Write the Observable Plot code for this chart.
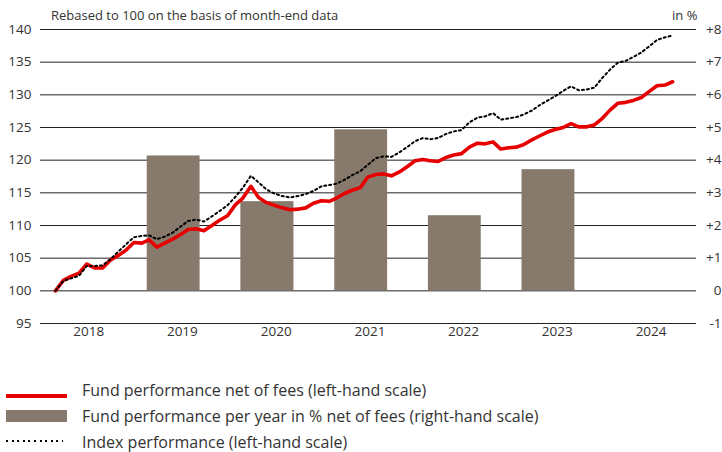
<!DOCTYPE html>
<html>
<head>
<meta charset="utf-8">
<script src="https://cdn.jsdelivr.net/npm/d3@7"></script>
<script src="https://cdn.jsdelivr.net/npm/@observablehq/plot@0.6"></script>
<style>
  html, body { margin: 0; padding: 0; background: #fff; }
  #wrap { position: relative; width: 722px; height: 452px; font-family: "Open Sans", sans-serif; color: #333; overflow: hidden; }
  #chart { position: absolute; left: 0; top: 0; }
  .lbl { position: absolute; font-size: 13px; line-height: 1; white-space: nowrap; }
  .leg { position: absolute; left: 82px; font-size: 16px; line-height: 1; white-space: nowrap; color: #333; }
  .sym { position: absolute; }
</style>
</head>
<body>
<div id="wrap">
  <div id="chart"></div>
  <div class="lbl" style="left:51px; top:9px;">Rebased to 100 on the basis of month-end data</div>
  <div class="lbl" style="left:672px; top:9px;">in %</div>
  <div class="sym" style="left:6px; top:394px; width:61px; height:4px; background:#e60000;"></div>
  <div class="leg" style="top:382px;">Fund performance net of fees (left-hand scale)</div>
  <div class="sym" style="left:6px; top:410px; width:61px; height:12px; background:#877a6c;"></div>
  <div class="leg" style="top:408px;">Fund performance per year in % net of fees (right-hand scale)</div>
  <div class="sym" style="left:6px; top:440px; width:57px; height:2px; background:repeating-linear-gradient(to right, #000 0 2px, transparent 2px 5.6px);"></div>
  <div class="leg" style="top:434px;">Index performance (left-hand scale)</div>
</div>
<script>
// Monthly month-end values, Feb 2018 .. Sep 2024 (rebased to 100)
const startYear = 2018, startMonth = 2; // February
const fund = [
  100.0, 101.6, 102.2, 102.7, 104.1, 103.5, 103.5, 104.7, 105.4, 106.2,
  107.4, 107.3, 107.8, 106.7, 107.3, 107.9, 108.6, 109.4, 109.5, 109.2,
  110.0, 110.8, 111.5, 113.2, 114.2, 116.0, 114.3, 113.5, 113.1, 112.7,
  112.4, 112.5, 112.7, 113.4, 113.8, 113.7, 114.2, 114.9, 115.4, 115.8,
  117.4, 117.8, 117.9, 117.6, 118.2, 119.0, 119.9, 120.1, 119.9, 119.8,
  120.4, 120.8, 121.0, 122.0, 122.6, 122.5, 122.8, 121.7, 121.9, 122.0,
  122.4, 123.1, 123.7, 124.3, 124.7, 125.0, 125.6, 125.1, 125.1, 125.4,
  126.4, 127.7, 128.7, 128.85, 129.15, 129.6, 130.5, 131.4, 131.5, 132.0
];
const indexPerf = [
  100.0, 101.5, 101.9, 102.3, 103.8, 103.8, 103.9, 104.8, 106.0, 107.1,
  108.2, 108.4, 108.5, 107.9, 108.3, 108.9, 109.8, 110.7, 110.9, 110.6,
  111.4, 112.2, 113.1, 114.4, 115.8, 117.6, 116.6, 115.5, 114.9, 114.5,
  114.3, 114.5, 114.8, 115.3, 116.0, 116.2, 116.4, 117.0, 117.7, 118.3,
  119.3, 120.3, 120.6, 120.5, 121.2, 122.0, 122.9, 123.4, 123.2, 123.4,
  124.0, 124.4, 124.6, 125.8, 126.5, 126.7, 127.2, 126.2, 126.4, 126.6,
  127.0, 127.6, 128.4, 129.1, 129.8, 130.6, 131.3, 130.7, 130.8, 131.1,
  132.6, 133.9, 134.9, 135.2, 135.8, 136.5, 137.4, 138.4, 138.8, 139.1
];
// Annual fund performance in % (right-hand scale)
const barYears = [2019, 2020, 2021, 2022, 2023];
const barValues = [4.13, 2.73, 4.93, 2.30, 3.71];
// Axis labels
const years = [2018, 2019, 2020, 2021, 2022, 2023, 2024];
const leftTicks = [95, 100, 105, 110, 115, 120, 125, 130, 135, 140];
const rightTickLabels = ["-1", "0", "+1", "+2", "+3", "+4", "+5", "+6", "+7", "+8"];

const monthEnd = i => new Date(startYear, startMonth + i, 0);
const fundData = fund.map((v, i) => ({date: monthEnd(i), value: v}));
const indexData = indexPerf.map((v, i) => ({date: monthEnd(i), value: v}));
const barData = barYears.map((y, i) => ({year: y, value: barValues[i]}));
// right-hand % scale shares the left axis: 0% = 100, 1% = 5 points
const pctToLeft = p => 100 + 5 * p;

const chart = Plot.plot({
  width: 722,
  height: 345,
  marginLeft: 40,
  marginRight: 26,
  marginTop: 29,
  marginBottom: 22,
  style: {fontFamily: "Open Sans, sans-serif", fontSize: "13.5px", color: "#333", background: "transparent"},
  x: {type: "time", domain: [new Date(2018, 0, 1), new Date(2025, 0, 1)]},
  y: {domain: [95, 140]},
  marks: [
    Plot.gridY(leftTicks, {stroke: "#222", strokeOpacity: 1, strokeWidth: 1}),
    Plot.rect(barData, {
      x1: d => new Date(d.year, 1, 21),
      x2: d => new Date(d.year, 8, 15),
      y1: () => pctToLeft(0),
      y2: d => pctToLeft(d.value),
      fill: "#877a6c"
    }),
    Plot.line(fundData, {x: "date", y: "value", stroke: "#e60000", strokeWidth: 3.6, strokeLinejoin: "round"}),
    Plot.line(indexData, {x: "date", y: "value", stroke: "#000", strokeWidth: 2, strokeDasharray: "2,3"}),
    Plot.axisY(leftTicks, {anchor: "left", tickSize: 0, tickPadding: 9, label: null, fontSize: 13.5}),
    Plot.axisY(leftTicks, {anchor: "right", tickSize: 0, tickPadding: 25, textAnchor: "end", label: null, fontSize: 13.5,
      tickFormat: d => rightTickLabels[leftTicks.indexOf(d)]}),
    Plot.axisX(years.map(y => new Date(y, 6, 8)), {anchor: "bottom", tickSize: 0, tickPadding: 3, label: null, fontSize: 13.5,
      tickFormat: d => String(years.find(y => y === d.getFullYear()))})
  ]
});
document.getElementById("chart").appendChild(chart);
</script>
</body>
</html>
